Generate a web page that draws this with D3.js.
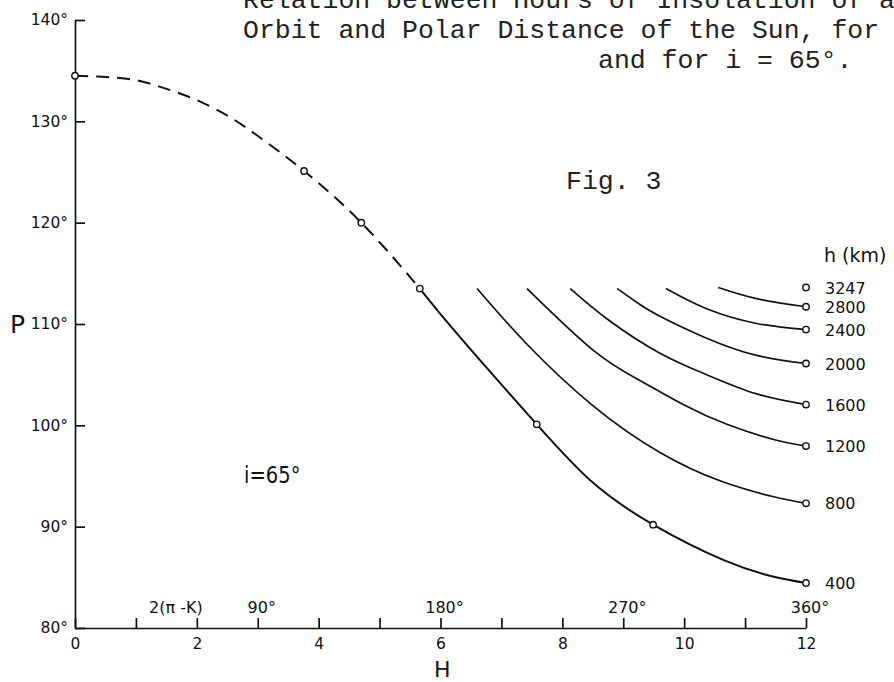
<!DOCTYPE html>
<html>
<head>
<meta charset="utf-8">
<script src="https://cdn.jsdelivr.net/npm/d3@7"></script>
<style>
  body { margin: 0; background: #fff; }
  svg { display: block; }
  .tick text { font-family: "DejaVu Sans", sans-serif; font-size: 15.5px; fill: #111; }
  .lbl { font-family: "DejaVu Sans", sans-serif; fill: #111; }
  .title { font-family: "Liberation Mono", "Courier New", monospace; font-size: 26.5px; fill: #222; }
</style>
</head>
<body>
<svg id="chart"></svg>
<script>
// axis ticks
var yTicks = [80, 90, 100, 110, 120, 130, 140];
var xTicks = [0, 1, 2, 3, 4, 5, 6, 7, 8, 9, 10, 11, 12];
var xTickLabels = ["0", "", "2", "", "4", "", "6", "", "8", "", "10", "", "12"];
var topLabelHours = [1, 3, 6, 9, 12];
var topLabelText = ["2(\u03c0 -K)", "90\u00b0", "180\u00b0", "270\u00b0", "360\u00b0"];

// h = 400 km curve, dashed part then solid part  [H, P]
var curve400Dashed = [[0, 134.5], [0.85, 134.2], [1.40, 133.4], [1.94, 132.25], [2.49, 130.6],
    [2.98, 128.65], [3.76, 125.1], [4.70, 120.0], [5.66, 113.5]];
var curve400 = [[5.66, 113.5], [6.32, 108.7], [7.58, 100.1], [8.51, 94.3], [9.49, 90.2],
    [10.65, 86.7], [11.47, 85.06], [12, 84.45]];
var curve800 = [[6.60, 113.5], [7.42, 108.0], [8.51, 101.9], [9.61, 97.3], [10.6, 94.5], [11.47, 92.95], [12, 92.3]];
var curve1200 = [[7.42, 113.5], [8.51, 107.4], [9.28, 104.4], [10.0, 102.0], [10.7, 100.1], [11.47, 98.6], [12, 97.95]];
var curve1600 = [[8.13, 113.5], [8.78, 110.3], [9.61, 107.1], [10.37, 105.0], [11.19, 103.1], [12, 102.05]];
var curve2000 = [[8.90, 113.5], [9.28, 111.9], [9.61, 110.75], [10.37, 108.6], [11.19, 106.9], [12, 106.1]];
var curve2400 = [[9.70, 113.5], [10.37, 111.5], [11.19, 110.05], [12, 109.45]];
var curve2800 = [[10.56, 113.6], [11.19, 112.5], [12, 111.7]];

// open circles on the main curve
var mainPoints = [[0, 134.5], [3.76, 125.1], [4.70, 120.0], [5.66, 113.5], [7.58, 100.1], [9.49, 90.2]];

// end circles at H = 12 and their labels
var hLabels = ["3247", "2800", "2400", "2000", "1600", "1200", "800", "400"];
var hEndP = [113.6, 111.7, 109.45, 106.1, 102.05, 97.95, 92.3, 84.45];

var totalWidth = 894, totalHeight = 682;
var margin = { top: 20, right: 88, bottom: 54, left: 75 };
var width = totalWidth - margin.left - margin.right;
var height = totalHeight - margin.top - margin.bottom;

var svg = d3.select("#chart")
    .attr("width", totalWidth)
    .attr("height", totalHeight);

var x = d3.scaleLinear().domain([0, 12]).range([0, width]);
var y = d3.scaleLinear().domain([80, 140]).range([height, 0]);

var g = svg.append("g")
    .attr("transform", "translate(" + margin.left + "," + margin.top + ")");

// title text (typewritten)
svg.append("text").attr("class", "title").attr("x", 243).attr("y", 8)
    .text("Relation between Hours of Insolation of a");
svg.append("text").attr("class", "title").attr("x", 243).attr("y", 38)
    .text("Orbit and Polar Distance of the Sun, for");
svg.append("text").attr("class", "title").attr("x", 598).attr("y", 68)
    .text("and for i = 65\u00b0.");
svg.append("text").attr("class", "title").attr("x", 566).attr("y", 189)
    .text("Fig. 3");

// axes
var yAxis = g.append("g")
    .call(d3.axisLeft(y).tickValues(yTicks).tickSizeInner(-10).tickSizeOuter(0)
        .tickPadding(7).tickFormat(function (d) { return d + "\u00b0"; }));

var xAxis = g.append("g")
    .attr("transform", "translate(0," + height + ")")
    .call(d3.axisBottom(x).tickValues(xTicks).tickSizeInner(-10).tickSizeOuter(0)
        .tickPadding(10).tickFormat(function (d, i) { return xTickLabels[i]; }));

[yAxis, xAxis].forEach(function (a) {
    a.selectAll("path, line").attr("stroke", "#111").attr("stroke-width", 1.7);
});

// labels above x ticks
g.selectAll(".toplbl")
    .data(topLabelHours)
    .enter()
    .append("text")
    .attr("class", "lbl")
    .attr("x", function (d, i) { return x(d) + (i == 0 ? 40 : 4); })
    .attr("y", height - 15)
    .attr("text-anchor", "middle")
    .attr("font-size", 16)
    .text(function (d, i) { return topLabelText[i]; });

// axis titles
svg.append("text").attr("class", "lbl").attr("x", 10).attr("y", 333)
    .attr("font-size", 25).text("P");
svg.append("text").attr("class", "lbl").attr("x", 434).attr("y", 677)
    .attr("font-size", 22).text("H");
svg.append("text").attr("class", "lbl").attr("x", 244).attr("y", 483)
    .attr("font-size", 23).attr("transform", "translate(244,483) scale(0.85,1) translate(-244,-483)")
    .text("i=65\u00b0");
svg.append("text").attr("class", "lbl").attr("x", 824).attr("y", 262)
    .attr("font-size", 19).text("h (km)");

var line = d3.line()
    .x(function (d) { return x(d[0]); })
    .y(function (d) { return y(d[1]); })
    .curve(d3.curveNatural);

g.append("path")
    .attr("d", line(curve400Dashed))
    .attr("fill", "none")
    .attr("stroke", "#111")
    .attr("stroke-width", 2)
    .attr("stroke-dasharray", "13,8");

var solidCurves = [curve400, curve800, curve1200, curve1600, curve2000, curve2400, curve2800];
g.selectAll(".curve")
    .data(solidCurves)
    .enter()
    .append("path")
    .attr("class", "curve")
    .attr("d", function (d) { return line(d); })
    .attr("fill", "none")
    .attr("stroke", "#111")
    .attr("stroke-width", function (d, i) { return i == 0 ? 2 : 1.7; });

g.selectAll(".pt")
    .data(mainPoints)
    .enter()
    .append("circle")
    .attr("class", "pt")
    .attr("cx", function (d) { return x(d[0]); })
    .attr("cy", function (d) { return y(d[1]); })
    .attr("r", 3.2)
    .attr("fill", "#fff")
    .attr("stroke", "#111")
    .attr("stroke-width", 1.4);

g.selectAll(".endpt")
    .data(hEndP)
    .enter()
    .append("circle")
    .attr("class", "endpt")
    .attr("cx", x(12))
    .attr("cy", function (d) { return y(d); })
    .attr("r", 3.2)
    .attr("fill", "#fff")
    .attr("stroke", "#111")
    .attr("stroke-width", 1.4);

g.selectAll(".hlbl")
    .data(hEndP)
    .enter()
    .append("text")
    .attr("class", "lbl")
    .attr("x", x(12) + 19)
    .attr("y", function (d) { return y(d) + 6; })
    .attr("font-size", 16)
    .text(function (d, i) { return hLabels[i]; });
</script>
</body>
</html>
